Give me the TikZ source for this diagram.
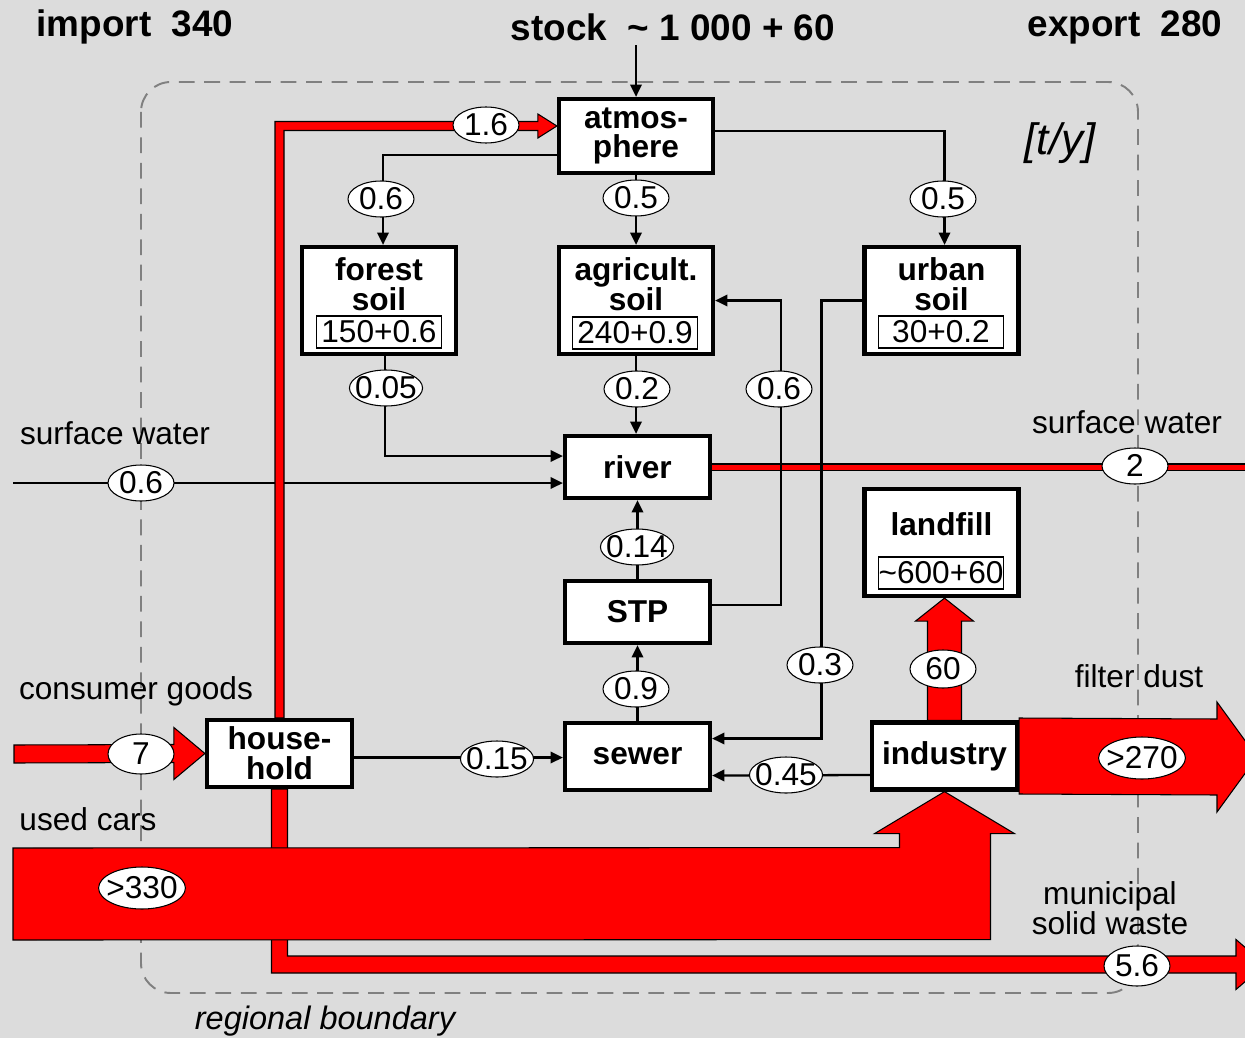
\documentclass[tikz,border=0pt]{standalone}
\usepackage{fontspec}
\setmainfont{Liberation Sans}
\usetikzlibrary{arrows.meta,shapes.geometric,calc,positioning}
\definecolor{bggray}{RGB}{220,220,220}
\definecolor{bndgray}{RGB}{128,128,128}

\begin{document}
\begin{tikzpicture}[
  x=0.02cm, y=-0.02cm,
  box/.style={draw, line width=2.4pt, fill=white, inner sep=0pt,
    minimum width=2.9cm, minimum height=1.34cm, align=center,
    font=\bfseries\fontsize{18}{17}\selectfont},
  bigbox/.style={box, minimum width=3.08cm, minimum height=2.14cm},
  ttl/.style={align=center, inner sep=0pt,
    font=\bfseries\fontsize{18}{17}\selectfont},
  val/.style={draw, line width=0.6pt, fill=white, inner sep=0pt,
    minimum width=2.5cm, minimum height=0.64cm,
    font=\fontsize{18}{20}\selectfont},
  lbl/.style={ellipse, draw, line width=0.6pt, fill=white,
    inner xsep=-2.8pt, inner ysep=-3pt, minimum width=1.32cm,
    minimum height=0.72cm, text height=12.5pt, text depth=0pt,
    font=\fontsize{18}{20}\selectfont},
  txt/.style={align=center, inner sep=0pt, font=\fontsize{18}{17}\selectfont},
  hdr/.style={inner sep=0pt, font=\bfseries\fontsize{21}{23}\selectfont},
  arr/.style={draw, line width=1.3pt, -{Triangle[length=7pt,width=6.5pt]}},
  fat/.style={fill=red, draw=black, line width=0.6pt, line join=miter},
  redline/.style={draw=black, double=red, line width=0.6pt, double distance=0.1cm}
]
\useasboundingbox (0,0) rectangle (1245,1038);
\clip (0,0) rectangle (1245,1038);
\fill[bggray] (0,0) rectangle (1245,1038);

% regional boundary
\draw[bndgray, line width=1.1pt, dash pattern=on 9pt off 5.5pt,
  rounded corners=17pt] (141,82) rectangle (1138,993);

% processes
\node[box, minimum width=3.08cm, minimum height=1.48cm] (atm) at (636,136) {atmos-\\phere};
\node[bigbox] (forest) at (379,300.5) {};
\node[ttl] (forestt) at (379,284) {forest\\soil};
\node[val] (forestv) at (379,332) {150+0.6};
\node[bigbox] (agri) at (636,300.5) {};
\node[ttl] (agrit) at (636,284) {agricult.\\soil};
\node[val] (agriv) at (635,333) {240+0.9};
\node[bigbox] (urban) at (941.5,300.5) {};
\node[ttl] (urbant) at (941.5,284) {urban\\soil};
\node[val] (urbanv) at (941,332) {30+0.2};
\node[bigbox] (land) at (941.5,542.5) {};
\node[ttl] (landt) at (941.5,524) {landfill};
\node[val] (landv) at (941,573) {\textasciitilde 600+60};
\node[box, minimum height=1.24cm] (river) at (637.5,467) {river};
\node[box, minimum height=1.24cm] (stp) at (637.5,612) {STP};
\node[box] (sewer) at (637.5,756.5) {sewer};
\node[box] (hh) at (279.5,753.5) {house-\\hold};
\node[box] (ind) at (944.5,756) {industry};

% free ends
\coordinate (stk) at (636,45);
\coordinate (swin) at (13,483);
\coordinate (swout) at (1250,467);
\coordinate (cg) at (14,754);
\coordinate (uc) at (13,894);
\coordinate (msw) at (1265,964.5);
\coordinate (fd) at (1257,757);
\coordinate (h16) at ($(atm.west)+(-19,-10)$);
\coordinate (t60) at (ind.north |- land.south);

\draw[redline] (river.east) -- (swout);

% small flows
\draw[arr] (stk) -- (atm.north);
\draw[arr] ($(atm.west)+(0,19)$) -| ($(forest.north)+(4,0)$);
\draw[arr] (atm.south) -- (agri.north);
\draw[arr] ($(atm.east)+(0,-5)$) -| ($(urban.north)+(3,0)$);
\draw[arr] ($(forest.south)+(6,0)$) |- ($(river.west)+(0,-11)$);
\draw[arr] (agri.south) -- (agri.south |- river.north);
\draw[arr] ($(stp.east)+(0,-7)$) -| ($(agri.east)+(66,0)$) -- (agri.east);
\draw[arr] (urban.west) -- ++(-41,0) |- ($(sewer.east)+(0,-18)$);
\draw[arr] (swin) -- ($(river.west)+(0,16)$);
\draw[arr] (stp.north) -- (river.south);
\draw[arr] (sewer.north) -- (stp.south);
\draw[arr] ($(hh.east)+(0,4)$) -- ($(sewer.west)+(0,1)$);
\draw[arr] ($(ind.west)+(0,19)$) -- ($(sewer.east)+(0,19)$);

% big flows
\draw[fat] ($(hh.north)+(-4.5,0)$) |- ($(h16)+(0,-4.5)$) -- ($(h16)+(0,-12)$)
  -- ($(atm.west)+(0,-10)$) -- ($(h16)+(0,12)$) -- ($(h16)+(0,4.5)$)
  -| ($(hh.north)+(4.5,0)$) -- cycle;
\draw[fat] ($(hh.south)+(-8,0)$) |- ($(msw)+(-29,8.5)$) -- ($(msw)+(-29,25)$)
  -- (msw) -- ($(msw)+(-29,-25)$) -- ($(msw)+(-29,-8.5)$)
  -| ($(hh.south)+(8,0)$) -- cycle;
\draw[fat] ($(uc)+(0,-46)$) -- ($(ind.south)+(-45,56)$) -- ($(ind.south)+(-45,42)$)
  -- ($(ind.south)+(-70,42)$) -- (ind.south) -- ($(ind.south)+(70,42)$)
  -- ($(ind.south)+(46,42)$) -- ($(ind.south)+(46,148)$) -- ($(uc)+(0,46)$) -- cycle;
\draw[fat] ($(cg)+(0,-9)$) -- ($(hh.west)+(-31,-9)$) -- ($(hh.west)+(-31,-26)$)
  -- (hh.west) -- ($(hh.west)+(-31,26)$) -- ($(hh.west)+(-31,9)$)
  -- ($(cg)+(0,9)$) -- cycle;
\draw[fat] ($(ind.north)+(-17,0)$) -- ($(t60)+(-17,23)$) -- ($(t60)+(-29,23)$)
  -- (t60) -- ($(t60)+(29,23)$) -- ($(t60)+(17,23)$) -- ($(ind.north)+(17,0)$) -- cycle;
\draw[fat] ($(ind.east)+(0,-38)$) -- ($(fd)+(-40,-38)$) -- ($(fd)+(-40,-55)$)
  -- (fd) -- ($(fd)+(-40,55)$) -- ($(fd)+(-40,38)$) -- ($(ind.east)+(0,38)$) -- cycle;

% flow values
\node[lbl] (l16) at (486,125) {1.6};
\node[lbl] (l06a) at (381,199) {0.6};
\node[lbl] (l05a) at (636,198) {0.5};
\node[lbl] (l05b) at (943,199) {0.5};
\node[lbl] (l005) at (386,388) {0.05};
\node[lbl] (l02) at (637,389) {0.2};
\node[lbl] (l06b) at (779,389) {0.6};
\node[lbl] (l06c) at (141,483) {0.6};
\node[lbl] (l2) at (1135,466) {2};
\node[lbl] (l014) at (637,547) {0.14};
\node[lbl] (l09) at (636,689) {0.9};
\node[lbl] (l03) at (820,665) {0.3};
\node[lbl, minimum height=0.76cm] (l60) at (943,669) {60};
\node[lbl, minimum height=0.84cm] (l270) at (1142,758) {>270};
\node[lbl, minimum height=0.8cm] (l7) at (141,754) {7};
\node[lbl] (l015) at (497,759) {0.15};
\node[lbl] (l045) at (786,775) {0.45};
\node[lbl, minimum height=0.84cm] (l330) at (142,888) {>330};
\node[lbl, minimum height=0.8cm] (l56) at (1137,966) {5.6};

% texts
\node[hdr] (imp) at (135,27) {import\ \ 340};
\node[hdr] (stock) at (673,27) {stock\ \ \textasciitilde\ 1 000 + 60};
\node[hdr] (exp) at (1125,27) {export\ \ 280};
\node[inner sep=0pt, font=\itshape\fontsize{25}{27}\selectfont] (unit) at (1060,143) {[t/y]};
\node[txt] (swl) at (115,433) {surface water};
\node[txt] (swr) at (1127,422) {surface water};
\node[txt] (cgt) at (136,691) {consumer goods};
\node[txt] (uct) at (88,819) {used cars};
\node[txt] (fdt) at (1139,676) {filter dust};
\node[txt] (mswt) at (1110,908) {municipal\\solid waste};
\node[txt, font=\itshape\fontsize{18.5}{20}\selectfont] (bnd) at (325,1021) {regional boundary};
\end{tikzpicture}
\end{document}
